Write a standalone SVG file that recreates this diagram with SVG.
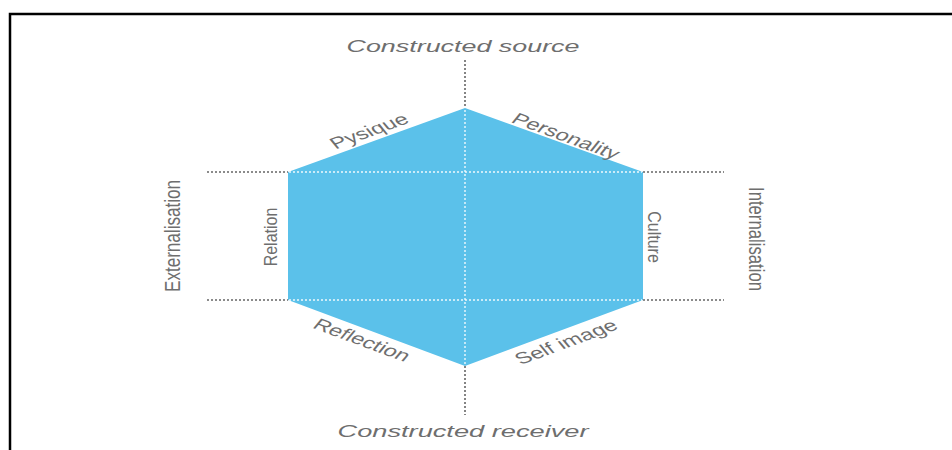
<svg xmlns="http://www.w3.org/2000/svg" width="952" height="450" viewBox="0 0 952 450">
<style>
.lbl{font-family:"Liberation Sans",Arial,sans-serif;fill:#6e6e6e;}
.dg{stroke:#666666;stroke-width:1.6;stroke-dasharray:2 2;fill:none;}
.dw{stroke:#ffffff;stroke-width:1.4;stroke-dasharray:2 2;fill:none;opacity:0.9;}
</style>
<rect width="952" height="450" fill="#ffffff"/>
<path d="M10,450 V14 H952" fill="none" stroke="#000" stroke-width="2.5"/>
<g id="hexagon">
<polygon points="465,108 643,172 643,300 465,366 288,300 288,172" fill="#5bc1ea"/>
</g>
<g id="connectors">
<line class="dg" x1="465" y1="60" x2="465" y2="108"/>
<line class="dg" x1="465" y1="366" x2="465" y2="415"/>
<line class="dg" x1="207" y1="172" x2="288" y2="172"/>
<line class="dg" x1="643" y1="172" x2="724" y2="172"/>
<line class="dg" x1="207" y1="300" x2="288" y2="300"/>
<line class="dg" x1="643" y1="300" x2="724" y2="300"/>
<line class="dw" x1="465" y1="110" x2="465" y2="364"/>
<line class="dw" x1="289" y1="172" x2="642" y2="172"/>
<line class="dw" x1="289" y1="300" x2="642" y2="300"/>
</g>
<g id="constructed-source"><text class="lbl" x="463" y="52" font-size="17" font-style="italic" text-anchor="middle" textLength="233" lengthAdjust="spacingAndGlyphs">Constructed source</text></g>
<g id="constructed-receiver"><text class="lbl" x="463" y="437" font-size="17" font-style="italic" text-anchor="middle" textLength="251" lengthAdjust="spacingAndGlyphs">Constructed receiver</text></g>
<g id="externalisation"><text class="lbl" transform="translate(173,236) scale(1.25,1) rotate(-90)" font-size="17" text-anchor="middle" dominant-baseline="central" textLength="112" lengthAdjust="spacingAndGlyphs">Externalisation</text></g>
<g id="internalisation"><text class="lbl" transform="translate(756,239) scale(1.25,1) rotate(90)" font-size="17" text-anchor="middle" dominant-baseline="central" textLength="104" lengthAdjust="spacingAndGlyphs">Internalisation</text></g>
<g id="relation"><text class="lbl" transform="translate(270,237) scale(1.2,1) rotate(-90)" font-size="16" text-anchor="middle" dominant-baseline="central">Relation</text></g>
<g id="culture"><text class="lbl" transform="translate(655,237) scale(1.2,1) rotate(90)" font-size="16" text-anchor="middle" dominant-baseline="central">Culture</text></g>
<g id="pysique"><text class="lbl" transform="translate(369,131) scale(1.5,1) rotate(-28.5)" font-size="16" text-anchor="middle" dominant-baseline="central">Pysique</text></g>
<g id="personality"><text class="lbl" transform="translate(566,136) scale(1.5,1) rotate(28.5)" font-size="16" text-anchor="middle" dominant-baseline="central">Personality</text></g>
<g id="reflection"><text class="lbl" transform="translate(362,340) scale(1.5,1) rotate(29)" font-size="16" text-anchor="middle" dominant-baseline="central">Reflection</text></g>
<g id="self-image"><text class="lbl" transform="translate(566,342) scale(1.5,1) rotate(-29)" font-size="16" text-anchor="middle" dominant-baseline="central">Self image</text></g>
</svg>
